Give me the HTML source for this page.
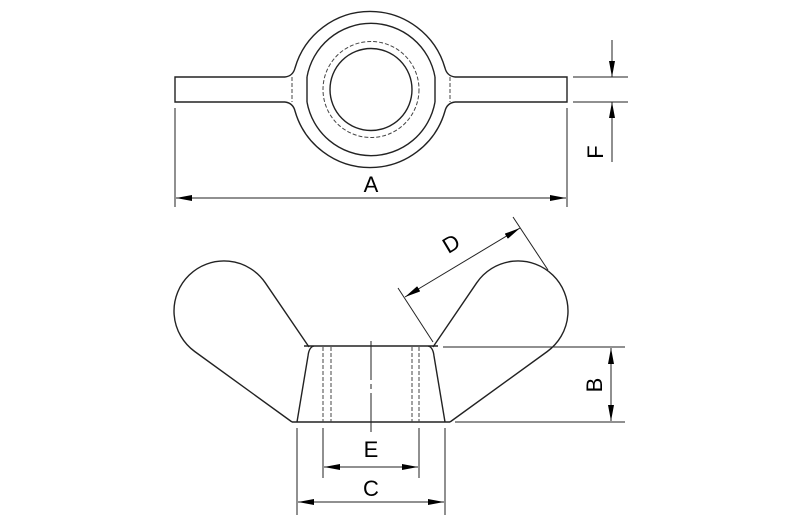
<!DOCTYPE html>
<html><head><meta charset="utf-8"><style>html,body{margin:0;padding:0;background:#fff}svg{display:block}</style></head>
<body>
<svg width="800" height="520" viewBox="0 0 800 520" xmlns="http://www.w3.org/2000/svg" font-family="Liberation Sans, sans-serif">
<defs>
<marker id="ar" viewBox="0 0 16 6" refX="16" refY="3" markerWidth="16" markerHeight="6" orient="auto-start-reverse" markerUnits="userSpaceOnUse"><path d="M0,0 L16,3 L0,6 z" fill="#000"/></marker>
</defs>
<g fill="none" stroke="#222" stroke-width="1.4">
<path d="M285,77 L175,77 L175,102 L285,102"/>
<path d="M455,77 L567,77 L567,102 L455,102"/>
<path d="M285,77 Q293,76 295,68 A78 78 0 0 1 445,68 Q447,76 455,77"/>
<path d="M285,102 Q293,103 295,111 A78 78 0 0 0 445,111 Q447,103 455,102"/>
<path d="M307,77 A65 65 0 0 1 435,77"/>
<path d="M307,102 A65 65 0 0 0 435,102"/>
<line x1="307" y1="77" x2="307" y2="102"/>
<line x1="435" y1="77" x2="435" y2="102"/>
<circle cx="371" cy="89.5" r="41"/>
</g>
<g fill="none" stroke="#444" stroke-width="1" stroke-dasharray="4,2">
<circle cx="371" cy="89.5" r="48"/>
<line x1="292" y1="77" x2="292" y2="102"/>
<line x1="450" y1="77" x2="450" y2="102"/>
</g>
<g stroke="#222" stroke-width="1" fill="none">
<line x1="175" y1="108" x2="175" y2="207"/>
<line x1="567" y1="108" x2="567" y2="207"/>
<line x1="176" y1="198" x2="566" y2="198" marker-start="url(#ar)" marker-end="url(#ar)"/>
<line x1="573" y1="77" x2="628" y2="77"/>
<line x1="573" y1="102" x2="628" y2="102"/>
<line x1="612" y1="40" x2="612" y2="77" marker-end="url(#ar)"/>
<line x1="612" y1="162" x2="612" y2="102" marker-end="url(#ar)"/>
</g>
<text x="371" y="192" font-size="22" text-anchor="middle">A</text>
<text transform="translate(603,152) rotate(-90)" font-size="22" text-anchor="middle">F</text>
<g fill="none" stroke="#222" stroke-width="1.4">
<path d="M309,347 L265.3,282.8 A50 50 0 1 0 194.7,351.5 L292,422"/>
<path d="M433,347 L476.7,282.8 A50 50 0 1 1 547.3,351.5 L450,422"/>
<line x1="304" y1="346" x2="438" y2="346"/>
<path d="M314,346 Q309,347 308,356 L297,422"/>
<path d="M428,346 Q433,347 434,356 L445,422"/>
<line x1="292" y1="422" x2="450" y2="422"/>
</g>
<g fill="none" stroke="#444" stroke-width="1" stroke-dasharray="4,2">
<line x1="323" y1="347" x2="323" y2="422"/>
<line x1="331" y1="347" x2="331" y2="422"/>
<line x1="412" y1="347" x2="412" y2="422"/>
<line x1="419" y1="347" x2="419" y2="422"/>
</g>
<g stroke="#222" stroke-width="1" fill="none">
<line x1="371" y1="341" x2="371" y2="380"/>
<line x1="371" y1="384" x2="371" y2="389"/>
<line x1="371" y1="393" x2="371" y2="432"/>
<line x1="443" y1="347" x2="625" y2="347"/>
<line x1="455" y1="422" x2="625" y2="422"/>
<line x1="611" y1="348" x2="611" y2="421" marker-start="url(#ar)" marker-end="url(#ar)"/>
<line x1="297" y1="428" x2="297" y2="515"/>
<line x1="445" y1="428" x2="445" y2="515"/>
<line x1="298" y1="502" x2="444" y2="502" marker-start="url(#ar)" marker-end="url(#ar)"/>
<line x1="323" y1="428" x2="323" y2="478"/>
<line x1="419" y1="428" x2="419" y2="478"/>
<line x1="324" y1="467" x2="418" y2="467" marker-start="url(#ar)" marker-end="url(#ar)"/>
<line x1="398" y1="288" x2="433" y2="342"/>
<line x1="513" y1="217" x2="548" y2="270"/>
<line x1="405" y1="297" x2="520" y2="228" marker-start="url(#ar)" marker-end="url(#ar)"/>
</g>
<text transform="translate(596,385) rotate(-90)" font-size="22" text-anchor="middle" dominant-baseline="middle">B</text>
<text x="371" y="457" font-size="22" text-anchor="middle">E</text>
<text x="371" y="496" font-size="22" text-anchor="middle">C</text>
<text transform="translate(455,250) rotate(-31)" font-size="22" text-anchor="middle">D</text>
</svg>
</body></html>
